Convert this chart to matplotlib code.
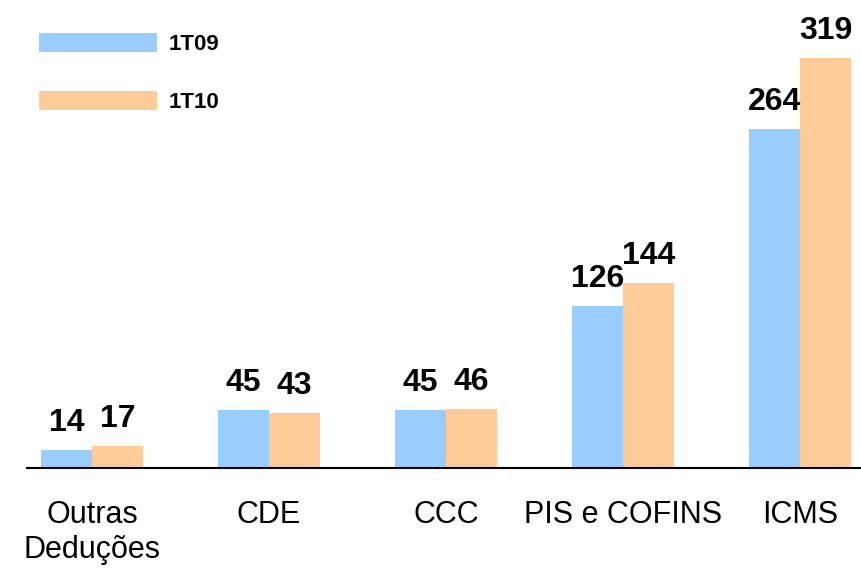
import numpy as np
import matplotlib.pyplot as plt

plt.rcParams['font.family'] = ['Liberation Sans', 'DejaVu Sans']

categories = ['Outras\nDeduções', 'CDE', 'CCC', 'PIS e COFINS', 'ICMS']
series_names = ['1T09', '1T10']
vals_1t09 = [14, 45, 45, 126, 264]
vals_1t10 = [17, 43, 46, 144, 319]

col_09 = '#99CCFF'
col_10 = '#FFCC99'

W, H = 861, 568
fig = plt.figure(figsize=(W / 100, H / 100), dpi=100)
ax = fig.add_axes([27 / W, (H - 468) / H, (W - 27) / W, 468 / H])

x = np.arange(len(categories))
bw = 0.288
b1 = ax.bar(x - bw / 2, vals_1t09, bw, color=col_09, label=series_names[0])
b2 = ax.bar(x + bw / 2, vals_1t10, bw, color=col_10, label=series_names[1])

# rótulos de valor acima das barras
for bars, vals in ((b1, vals_1t09), (b2, vals_1t10)):
    for r, v in zip(bars, vals):
        ax.annotate(str(v), (r.get_x() + r.get_width() / 2, v),
                    xytext=(0, 13.7), textcoords='offset points',
                    ha='center', va='baseline', fontsize=23, fontweight='bold')

ax.set_xlim(-0.367, 4.345)
ax.set_ylim(0, 364)
ax.set_xticks(x)
ax.set_xticklabels(categories, fontsize=22, linespacing=1.22)
ax.tick_params(axis='x', length=0, pad=23)
ax.set_yticks([])
for s in ('top', 'right', 'left'):
    ax.spines[s].set_visible(False)
ax.spines['bottom'].set_linewidth(1.5)

ax.legend(loc='upper left', bbox_to_anchor=(39 / W, 1 - 33 / H),
          bbox_transform=fig.transFigure, frameon=False,
          prop={'weight': 'bold', 'size': 16}, borderpad=0, borderaxespad=0,
          handlelength=5.3, handleheight=0.95, handletextpad=0.55,
          labelspacing=1.6)

fig.savefig('out.png', dpi=100)
